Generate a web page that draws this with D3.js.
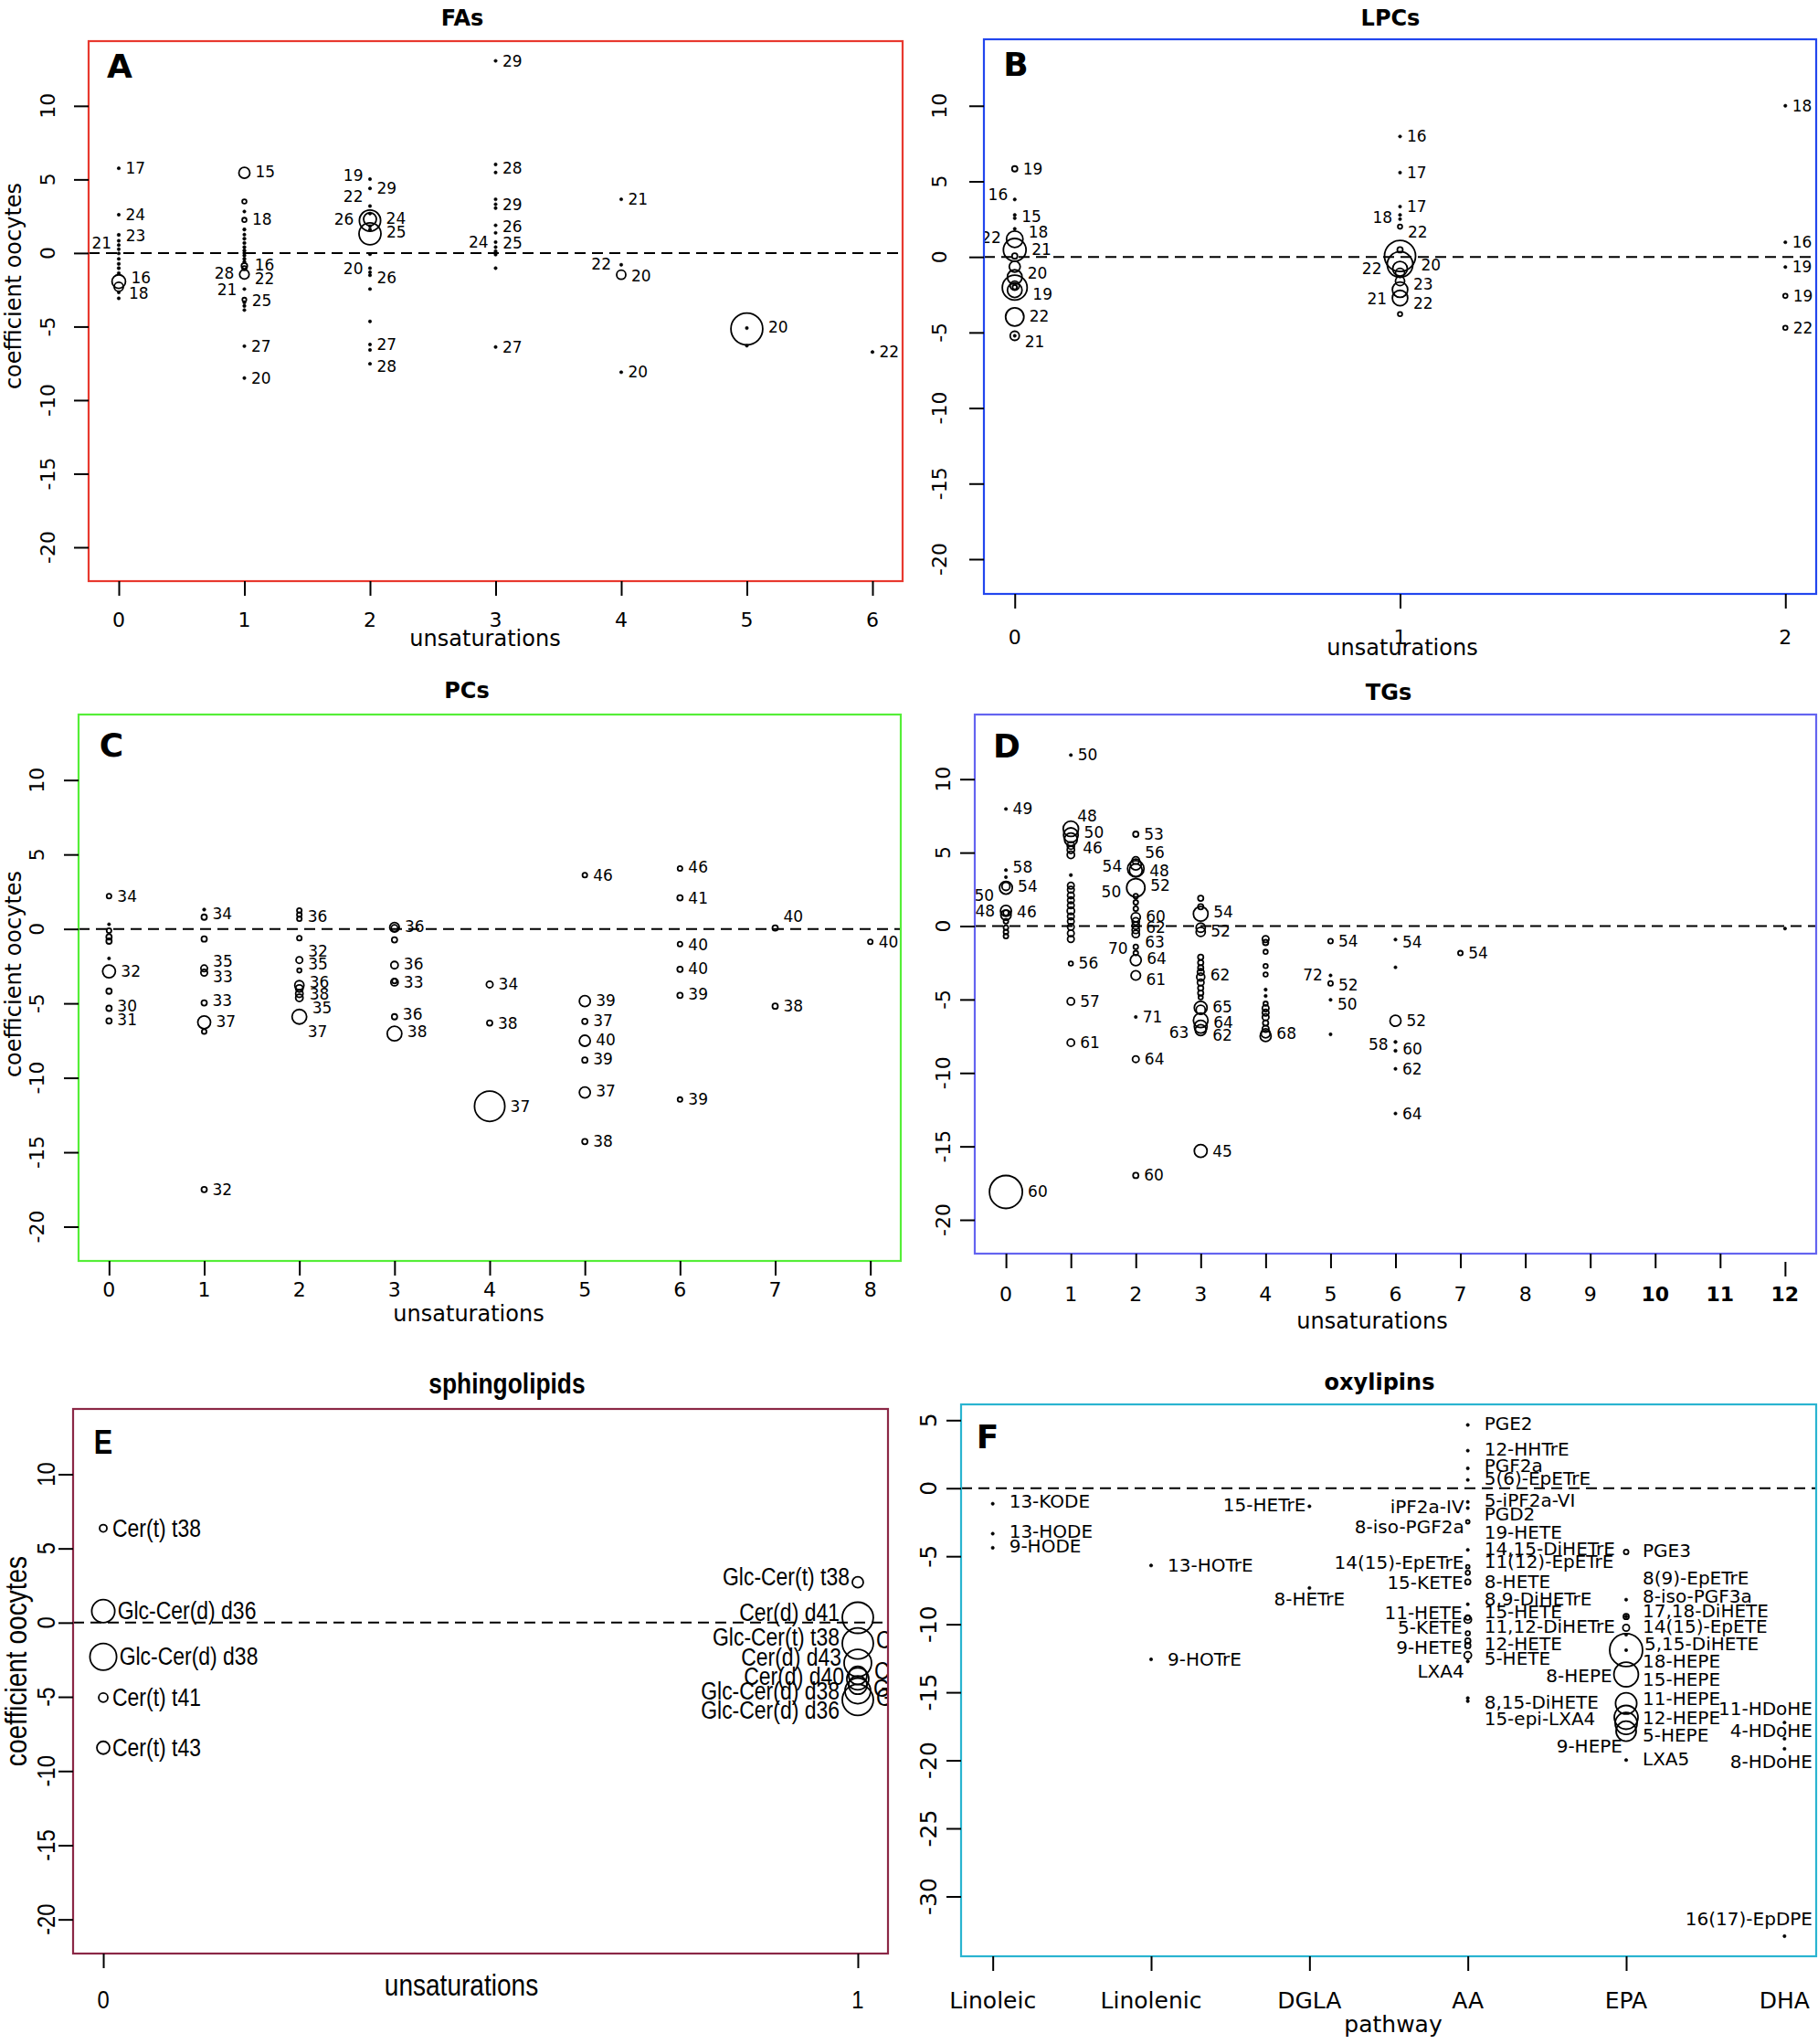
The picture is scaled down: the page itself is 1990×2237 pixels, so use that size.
<!DOCTYPE html>
<html><head><meta charset="utf-8">
<script src="https://cdn.jsdelivr.net/npm/d3@7/dist/d3.min.js"></script>
<style>body{margin:0;background:#fff}svg{display:block}</style>
</head><body>
<svg id="fig" width="1990" height="2237"></svg>
<script>
// ---------------- DATA ([x, coefficient, bubble size]) ----------------
const yTicksStd = [10, 5, 0, -5, -10, -15, -20];
const yTicksOxy = [5, 0, -5, -10, -15, -20, -25, -30];
const pathwayNames = ["Linoleic", "Linolenic", "DGLA", "AA", "EPA", "DHA"];

const faPoints = [
 [0,5.76,.75],[0,2.6,.75],[0,1.23,.9],[0,0.83,.75],[0,0.54,.75],[0,0.26,.75],[0,-0.03,.75],[0,-0.4,.75],[0,-0.74,.9],[0,-1.03,.9],[0,-1.37,.9],[0,-1.94,3.7],[0,-2.3,2.5],[0,-2.68,.75],[0,-3.08,.75],
 [1,5.45,3],[1,3.5,1.2],[1,2.82,.75],[1,2.25,1.2],[1,1.6,.9],[1,1.25,.75],[1,0.97,.9],[1,0.68,.9],[1,0.4,.9],[1,0.17,.9],[1,0,.9],[1,-0.17,.9],[1,-0.4,.9],[1,-0.6,.9],[1,-0.88,1.6],[1,-1.03,1.2],[1,-1.45,2.6],[1,-2.45,.75],[1,-3.17,1.1],[1,-3.36,.9],[1,-3.6,.9],[1,-3.88,.75],[1,-6.33,.75],[1,-8.5,.75],
 [2,5.02,.75],[2,4.39,.75],[2,3.19,.75],[2,2.68,.75],[2,2.2,5.8],[2,2.3,3.5],[2,1.31,6],[2,1.82,.75],[2,1.6,.75],[2,-0.08,.75],[2,-1.03,.75],[2,-1.31,.75],[2,-1.51,.75],[2,-2.45,.75],[2,-4.65,.75],[2,-6.22,.75],[2,-6.59,.75],[2,-7.53,.75],
 [3,13.06,.75],[3,6.02,.75],[3,5.47,.75],[3,3.65,.75],[3,3.31,.75],[3,3.05,.75],[3,1.88,.75],[3,1.37,.75],[3,0.74,.75],[3,0.4,.75],[3,0.11,.9],[3,-0.11,.75],[3,-1.03,.75],[3,-6.39,.75],
 [4,3.65,.75],[4,-0.8,.75],[4,-1.48,2.5],[4,-8.1,.75],
 [5,-5.16,8.7],[5,-5.1,.75],[5,-6.3,.75],
 [6,-6.73,.75]
];
const faLabels = [
 [0,5.76,"17","r"],[0,2.6,"24","r"],[0,1.17,"23","r"],[0,0.68,"21","l"],[0,-1.68,"16","r"],[0,-2.74,"18","r"],
 [1,5.53,"15","r"],[1,2.28,"18","r"],[1,-0.8,"16","r"],[1,-1.74,"22","r"],[1,-3.25,"25","r"],[1,-6.33,"27","r"],[1,-8.53,"20","r"],[1,-1.37,"28","l"],[1,-2.51,"21","l"],
 [2,5.25,"19","l"],[2,4.39,"29","r"],[2,3.82,"22","l"],[2,2.28,"26","l"],[2,2.34,"24","r"],[2,1.4,"25","r"],[2,-1.08,"20","l"],[2,-1.68,"26","r"],[2,-6.22,"27","r"],[2,-7.73,"28","r"],
 [3,13.06,"29","r"],[3,5.76,"28","r"],[3,3.31,"29","r"],[3,1.82,"26","r"],[3,0.74,"24","l"],[3,0.68,"25","r"],[3,-6.39,"27","r"],
 [4,3.65,"21","r"],[4,-0.74,"22","l"],[4,-1.54,"20","r"],[4,-8.1,"20","r"],
 [5,-5.05,"20","r"],[6,-6.73,"22","r"]
];

const lpcPoints = [
 [0,5.83,1.5],[0,3.8,.75],[0,2.78,.75],[0,2.56,.75],[0,1.86,.75],[0,1.17,4.5],[0,0.47,6.2],[0,0.06,1.5],[0,-0.64,3],[0,-1.33,4],[0,-2.03,6.8],[0,-2.2,4],[0,-1.9,2.5],[0,-2.0,1.2],[0,-3.97,5],[0,-5.22,2.5],[0,-5.22,.75],
 [1,7.97,.75],[1,5.58,.75],[1,3.33,.75],[1,2.78,.75],[1,2.5,.75],[1,2.0,1.2],[1,0.47,1.5],[1,0.06,8.5],[1,-0.5,7],[1,-0.78,4],[1,-1.06,2.5],[1,-1.6,2.5],[1,-2.17,4.2],[1,-2.72,4.2],[1,-3.78,1.2],
 [2,10.0,.75],[2,0.97,.75],[2,-0.67,.75],[2,-2.58,1.2],[2,-4.69,1.2]
];
const lpcLabels = [
 [0,5.83,"19","r"],[0,4.14,"16","l"],[0,2.69,"15","r"],[0,1.67,"18","r"],[0,1.3,"22","l"],[0,0.47,"21","r"],[0,-1.06,"20","r"],[0,-2.44,"19","r"],[0,-3.89,"22","r"],[0,-5.64,"21","r"],
 [1,7.97,"16","r"],[1,5.58,"17","r"],[1,3.33,"17","r"],[1,2.61,"18","l"],[1,1.67,"22","r"],[1,-0.78,"22","l"],[1,-0.56,"20","r"],[1,-1.83,"23","r"],[1,-2.8,"21","l"],[1,-3.06,"22","r"],
 [2,10,"18","r"],[2,0.97,"16","r"],[2,-0.67,"19","r"],[2,-2.58,"19","r"],[2,-4.69,"22","r"]
];

const pcPoints = [
 [0,2.2,1.3],[0,0.31,.75],[0,-0.11,1.3],[0,-0.54,1.5],[0,-0.82,1.5],[0,-1.98,.75],[0,-2.85,3.5],[0,-4.18,1.5],[0,-5.33,1.5],[0,-6.18,1.5],
 [1,1.3,.9],[1,0.79,1.5],[1,-0.68,1.5],[1,-2.65,1.8],[1,-2.94,1.8],[1,-4.97,1.5],[1,-6.27,3.5],[1,-6.89,1.3],[1,-17.5,1.5],
 [2,1.24,1.3],[2,0.96,1.3],[2,0.68,1.3],[2,-0.62,1.3],[2,-2.09,1.8],[2,-2.79,1.2],[2,-3.78,2.5],[2,-4.0,2],[2,-4.35,2],[2,-4.63,2],[2,-5.9,4],
 [3,0.11,2.6],[3,0.05,1.8],[3,-0.73,1.5],[3,-2.43,2],[3,-3.58,2],[3,-3.5,1.3],[3,-5.9,1.5],[3,-7.03,4],
 [4,-3.73,1.8],[4,-6.32,1.5],[4,-11.91,8.3],
 [5,3.61,1.3],[5,-4.85,3],[5,-6.21,1.5],[5,-7.51,3],[5,-8.81,1.5],[5,-10.98,3],[5,-14.28,1.5],
 [6,4.06,1.3],[6,2.09,1.5],[6,-1.02,1.3],[6,-2.71,1.5],[6,-4.46,1.5],[6,-11.46,1.3],
 [7,0.06,1.5],[7,-5.19,1.5],
 [8,-0.87,1.3]
];
const pcLabels = [
 [0,2.2,"34","r"],[0,-2.85,"32","r"],[0,-5.19,"30","r"],[0,-6.1,"31","r"],
 [1,1.02,"34","r"],[1,-2.17,"35","r"],[1,-3.22,"33","r"],[1,-4.83,"33","r"],[1,-6.24,"37","r"],[1,-17.5,"32","r"],
 [2,0.85,"36","r"],[2,-1.52,"32","r"],[2,-2.37,"35","r"],[2,-3.58,"36","r"],[2,-4.35,"38","r"],[2,-5.33,"35","r"],[2,-6.89,"37","r"],
 [3,0.17,"36","r"],[3,-2.37,"36","r"],[3,-3.56,"33","r"],[3,-5.76,"36","r"],[3,-6.89,"38","r"],
 [4,-3.73,"34","r"],[4,-6.32,"38","r"],[4,-11.91,"37","r"],
 [5,3.61,"46","r"],[5,-4.79,"39","r"],[5,-6.18,"37","r"],[5,-7.45,"40","r"],[5,-8.75,"39","r"],[5,-10.9,"37","r"],[5,-14.28,"38","r"],
 [6,4.15,"46","r"],[6,2.09,"41","r"],[6,-1.07,"40","r"],[6,-2.68,"40","r"],[6,-4.35,"39","r"],[6,-11.46,"39","r"],
 [7,0.82,"40","r"],[7,-5.19,"38","r"],
 [8,-0.87,"40","r"]
];

const tgPoints = [
 [0,7.97,.75],[0,3.81,.75],[0,3.33,.75],[0,2.61,3.5],[0,2.7,2.2],[0,1.03,3],[0,0.75,2.8],[0,0.9,1.5],[0,0.32,1.3],[0,-0.11,1.3],[0,-0.4,1.3],[0,-0.69,1.3],[0,-18.1,9],
 [1,11.64,.75],[1,6.62,4.2],[1,6.19,4],[1,5.9,3.5],[1,5.48,2],[1,5.19,2],[1,4.85,2],[1,3.47,.9],[1,2.75,1.8],[1,2.47,1.8],[1,2.09,1.8],[1,1.75,1.8],[1,1.41,1.8],[1,1.03,2],[1,0.66,1.8],[1,0.32,1.8],[1,-0.06,1.8],[1,-0.49,1.8],[1,-0.89,1.8],[1,-2.55,1.2],[1,-5.13,2],[1,-7.94,2],
 [2,6.25,1.5],[2,4.47,2],[2,4.19,3],[2,3.9,4.5],[2,3.8,3.5],[2,2.61,5],[2,2.04,1.3],[2,1.61,1.3],[2,1.18,1.3],[2,0.6,2.5],[2,0.32,2],[2,0.03,2],[2,-0.26,2],[2,-0.54,2],[2,-1.41,1.3],[2,-1.84,1.3],[2,-2.32,3],[2,-3.36,2.6],[2,-6.19,.75],[2,-9.06,1.8],[2,-16.98,1.5],
 [3,1.89,1.5],[3,1.32,1.5],[3,0.83,4],[3,-0.11,2.5],[3,-0.4,2.5],[3,-2.12,1.5],[3,-2.49,1.5],[3,-2.84,1.5],[3,-3.13,1.8],[3,-3.47,2.2],[3,-3.84,1.8],[3,-4.22,1.5],[3,-4.56,1.5],[3,-4.85,1.2],[3,-5.56,3.5],[3,-5.7,2.5],[3,-6.42,4],[3,-6.85,3.5],[3,-7.08,3],[3,-15.31,3.5],
 [4,-0.89,1.8],[4,-1.12,1.5],[4,-1.75,1.2],[4,-2.72,1.2],[4,-3.3,1.2],[4,-4.33,.9],[4,-4.76,.9],[4,-5.28,1.2],[4,-5.6,1.8],[4,-5.9,1.8],[4,-6.2,1.8],[4,-6.6,1.5],[4,-7.0,1.8],[4,-7.3,2.5],[4,-7.49,3],
 [5,-1.03,1.3],[5,-3.36,.75],[5,-3.9,1.3],[5,-5.02,.75],[5,-7.37,.75],
 [6,-0.92,.75],[6,-2.81,.75],[6,-6.45,3],[6,-7.89,.9],[6,-8.49,.9],[6,-9.72,.75],[6,-12.76,.75],
 [7,-1.84,1.3],
 [12,-0.17,.75]
];
const tgLabels = [
 [0,7.97,"49","r"],[0,4.04,"58","r"],[0,2.7,"54","r"],[0,2.09,"50","l"],[0,1.03,"48","l"],[0,0.95,"46","r"],[0,-18.1,"60","r"],
 [1,11.64,"50","r"],[1,7.48,"48","r"],[1,6.4,"50","r"],[1,5.33,"46","r"],[1,-2.55,"56","r"],[1,-5.13,"57","r"],[1,-7.94,"61","r"],
 [2,6.25,"53","r"],[2,4.99,"56","r"],[2,4.1,"54","l"],[2,3.76,"48","r"],[2,2.32,"50","l"],[2,2.75,"52","r"],[2,0.66,"60","r"],[2,-0.11,"62","r"],[2,-1.06,"63","r"],[2,-1.55,"70","l"],[2,-2.18,"64","r"],[2,-3.61,"61","r"],[2,-6.19,"71","r"],[2,-9.06,"64","r"],[2,-16.98,"60","r"],
 [3,0.95,"54","r"],[3,-0.32,"52","r"],[3,-3.33,"62","r"],[3,-5.51,"65","r"],[3,-6.57,"64","r"],[3,-7.43,"62","r"],[3,-7.23,"63","l"],[3,-15.31,"45","r"],
 [4,-7.34,"68","r"],
 [5,-1.03,"54","r"],[5,-3.33,"72","l"],[5,-4.04,"52","r"],[5,-5.31,"50","r"],
 [6,-1.06,"54","r"],[6,-6.45,"52","r"],[6,-8.06,"58","l"],[6,-8.37,"60","r"],[6,-9.72,"62","r"],[6,-12.76,"64","r"],
 [7,-1.84,"54","r"]
];

const sphPoints = [
 [0,6.36,2],[0,0.78,6.3],[0,-2.3,7.3],[0,-5.05,2.5],[0,-8.43,3.5],
 [1,2.72,3],[1,0.33,8.5],[1,-1.4,8.5],[1,-2.72,7.5],[1,-3.56,5],[1,-3.79,6],[1,-4.21,5],[1,-4.6,7],[1,-5.2,8.5]
];
const sphLabels = [
 [0,6.36,"Cer(t) t38","r"],[0,0.78,"Glc-Cer(d) d36","r"],[0,-2.3,"Glc-Cer(d) d38","r"],[0,-5.05,"Cer(t) t41","r"],[0,-8.43,"Cer(t) t43","r"],
 [1,3.08,"Glc-Cer(t) t38","l"],[1,0.69,"Cer(d) d41","l"],[1,-1.02,"Glc-Cer(t) t38","l"],[1,-2.36,"Cer(d) d43","l"],[1,-3.62,"Cer(d) d40","l"],[1,-4.63,"Glc-Cer(d) d38","l"],[1,-5.89,"Glc-Cer(d) d36","l"],
 [1,-1.2,"Cer(d)","r"],[1,-3.26,"Cer(d)","r"],[1,-4.45,"Glc-Cer(d)","r"],[1,-5.05,"Glc-Cer(d)","r"]
];

const oxyPoints = [
 [1,-1.14,.75],[1,-3.34,.75],[1,-4.38,.75],
 [2,-5.68,.75],[2,-12.58,.75],
 [3,-1.33,.75],[3,-7.33,.75],
 [4,4.65,.75],[4,2.76,.75],[4,1.46,.75],[4,0.61,.75],[4,-1.01,.75],[4,-1.46,.75],[4,-2.47,1],[4,-4.53,.75],[4,-5.77,1],[4,-6.22,1.2],[4,-6.89,1.5],[4,-8.53,.75],[4,-9.65,2],[4,-9.5,1.3],[4,-10.66,1.2],[4,-11.22,1.5],[4,-11.56,1.5],[4,-12.28,2],[4,-12.73,.75],[4,-15.42,.75],[4,-15.65,.75],
 [5,-4.69,1.3],[5,-8.19,.75],[5,-9.43,1.5],[5,-9.43,.9],[5,-10.26,1.8],[5,-10.77,.75],[5,-11.9,9],[5,-11.9,.75],[5,-13.69,6.7],[5,-15.82,5.8],[5,-16.84,6.5],[5,-17.28,6],[5,-17.85,5.5],[5,-19.98,.75],
 [6,-17.22,.75],[6,-18.41,.75],[6,-19.15,.75],[6,-32.92,.75]
];
const oxyLabels = [
 [1,-0.97,"13-KODE","r"],[1,-3.18,"13-HODE","r"],[1,-4.28,"9-HODE","r"],
 [2,-5.68,"13-HOTrE","r"],[2,-12.58,"9-HOTrE","r"],
 [3,-1.26,"15-HETrE","l"],[3,-8.17,"8-HETrE","c"],
 [4,4.78,"PGE2","r"],[4,2.85,"12-HHTrE","r"],[4,1.64,"PGF2a","r"],[4,0.74,"5(6)-EpETrE","r"],[4,-0.9,"5-iPF2a-VI","r"],[4,-1.91,"PGD2","r"],[4,-3.25,"19-HETE","r"],[4,-4.42,"14,15-DiHETrE","r"],[4,-5.39,"11(12)-EpETrE","r"],[4,-6.85,"8-HETE","r"],[4,-8.13,"8,9-DiHETrE","r"],[4,-9.09,"15-HETE","r"],[4,-10.17,"11,12-DiHETrE","r"],[4,-11.45,"12-HETE","r"],[4,-12.5,"5-HETE","r"],[4,-15.71,"8,15-DiHETE","r"],[4,-16.95,"15-epi-LXA4","r"],
 [4,-1.39,"iPF2a-IV","l"],[4,-2.82,"8-iso-PGF2a","l"],[4,-5.48,"14(15)-EpETrE","l"],[4,-6.91,"15-KETE","l"],[4,-9.18,"11-HETE","l"],[4,-10.22,"5-KETE","l"],[4,-11.68,"9-HETE","l"],[4,-13.46,"LXA4","l"],
 [5,-4.56,"PGE3","r"],[5,-6.62,"8(9)-EpETrE","r"],[5,-7.92,"8-iso-PGF3a","r"],[5,-9.02,"17,18-DiHETE","r"],[5,-10.17,"14(15)-EpETE","r"],[5,-11.45,"5,15-DiHETE","r"],[5,-12.73,"18-HEPE","r"],[5,-14.07,"15-HEPE","r"],[5,-15.49,"11-HEPE","r"],[5,-16.9,"12-HEPE","r"],[5,-18.14,"5-HEPE","r"],[5,-19.91,"LXA5","r"],
 [5,-13.76,"8-HEPE","l"],[5,-18.97,"9-HEPE","l"],
 [6,-16.23,"11-HDoHE","c"],[6,-17.8,"4-HDoHE","c"],[6,-20.09,"8-HDoHE","c"],[6,-31.62,"16(17)-EpDPE","c"]
];

// ---------------- LAYOUT ----------------
const MAIN = "'DejaVu Sans', 'Noto Sans', sans-serif";
const ARIAL = "'Liberation Sans', Arial, sans-serif";
const std = {lab:17, tick:22, axis:24, title:24, letter:36};
const panels = [
 {id:"A", title:"FAs", color:"#e8392f", pts:faPoints, labs:faLabels, box:[97,45,988,636], xdom:[-0.24,6.24], ydom:[-22.3,14.4],
  xticks:d3.range(0,7), xnames:null, yticks:yTicksStd, xTickY:678, yTickX:52, xlab:[531,699,"unsaturations"], ylab:[15,313],
  titlePos:[506,20], letterPos:[131,72], font:MAIN, fs:std, off:{minR:7,gapR:6,minL:7,gapL:6}},
 {id:"B", title:"LPCs", color:"#2246ee", pts:lpcPoints, labs:lpcLabels, box:[1077,43,1988,650], xdom:[-0.08,2.08], ydom:[-22.3,14.4],
  xticks:[0,1,2], xnames:null, yticks:yTicksStd, xTickY:697, yTickX:1028, xlab:[1535,709,"unsaturations"], ylab:null,
  titlePos:[1522,20], letterPos:[1112,70], font:MAIN, fs:std, off:{minR:7,gapR:6,minL:7,gapL:6}},
 {id:"C", title:"PCs", color:"#55ee38", pts:pcPoints, labs:pcLabels, box:[86,782,986,1380], xdom:[-0.32,8.32], ydom:[-22.3,14.4],
  xticks:d3.range(0,9), xnames:null, yticks:yTicksStd, xTickY:1411, yTickX:40, xlab:[513,1438,"unsaturations"], ylab:[15,1066],
  titlePos:[511,756], letterPos:[122,815], font:MAIN, fs:std, off:{minR:9,gapR:6,minL:7,gapL:6}},
 {id:"D", title:"TGs", color:"#6464f0", pts:tgPoints, labs:tgLabels, box:[1067,782,1988,1372], xdom:[-0.48,12.48], ydom:[-22.3,14.4],
  xticks:d3.range(0,13), xnames:null, yticks:yTicksStd, xTickY:1416, yTickX:1032, xlab:[1502,1446,"unsaturations"], ylab:null,
  titlePos:[1520,758], letterPos:[1102,816], font:MAIN, fs:std, off:{minR:7,gapR:6,minL:7,gapL:6}, boldTicks:[10,11,12], lowTick:12},
 {id:"E", title:"sphingolipids", color:"#8b2846", pts:sphPoints, labs:sphLabels, box:[80,1542,972,2138], xdom:[-0.04,1.04], ydom:[-22.3,14.4],
  xticks:[0,1], xnames:null, yticks:yTicksStd, xTickY:2188, yTickX:50, xlab:[505,2172,"unsaturations"], ylab:[17,1818],
  titlePos:[555,1514], letterPos:[113,1578], font:ARIAL, condense:0.85, fs:{lab:27, tick:28, axis:33, title:31, letter:36}, off:{minR:10,gapR:3,minL:6,gapL:3}},
 {id:"F", title:"oxylipins", color:"#2ab4d0", pts:oxyPoints, labs:oxyLabels, box:[1052,1537,1988,2141], xdom:[0.8,6.2], ydom:[-34.4,6.16],
  xticks:[1,2,3,4,5], xnames:pathwayNames, yticks:yTicksOxy, xTickY:2189, yTickX:1016, xlab:[1525,2215,"pathway"], ylab:null,
  titlePos:[1510,1513], letterPos:[1081,1572], font:MAIN, fs:{lab:20, tick:25, axis:25, title:24, letter:36}, off:{minR:18,gapR:2,minL:4,gapL:2}}
];

// ---------------- DRAW ----------------
const svg = d3.select("#fig");
svg.append("rect").attr("width",1990).attr("height",2237).attr("fill","#fff");
const rScale = d3.scaleLinear().domain([0,10]).range([0,20]);

panels.forEach(p => {
  const [x0,y0,x1,y1] = p.box;
  const x = d3.scaleLinear().domain(p.xdom).range([x0,x1]);
  const y = d3.scaleLinear().domain(p.ydom).range([y1,y0]);
  const g = svg.append("g").attr("font-family", p.font);
  const cid = "clip" + p.id;
  svg.append("defs").append("clipPath").attr("id",cid)
     .append("rect").attr("x",x0).attr("y",y0).attr("width",x1-x0).attr("height",y1-y0);
  const inner = g.append("g").attr("clip-path",`url(#${cid})`);

  inner.append("line").attr("x1",x0).attr("x2",x1).attr("y1",y(0)).attr("y2",y(0))
    .attr("stroke","#000").attr("stroke-width",2).attr("stroke-dasharray","12,7");

  inner.selectAll("circle.pt").data(p.pts).join("circle").attr("class","pt")
    .attr("cx",d=>x(d[0])).attr("cy",d=>y(d[1]))
    .attr("r",d=>Math.max(rScale(d[2]), 1.7))
    .attr("fill",d=>rScale(d[2])<=1.9?"#000":"none")
    .attr("stroke","#000").attr("stroke-width",d=>rScale(d[2])<=1.9?0.6:1.8);

  const nearR = l => {
    let m = 0;
    p.pts.forEach(d => { if (d[0]===l[0] && Math.abs(y(d[1])-y(l[1])) < 12) m = Math.max(m, rScale(d[2])); });
    return m;
  };
  const labSel = inner.selectAll("text.lab").data(p.labs).join("text").attr("class","lab")
    .attr("font-size",p.fs.lab)
    .attr("dominant-baseline","central")
    .attr("text-anchor",d=>d[3]==="r"?"start":d[3]==="l"?"end":"middle")
    .attr("x",d=>{
      const r = nearR(d);
      if (d[3]==="r") return x(d[0]) + Math.max(p.off.minR, r + p.off.gapR);
      if (d[3]==="l") return x(d[0]) - Math.max(p.off.minL, r + p.off.gapL);
      return x(d[0]);
    })
    .attr("y",d=>y(d[1]))
    .text(d=>d[2]);

  g.append("rect").attr("x",x0).attr("y",y0).attr("width",x1-x0).attr("height",y1-y0)
    .attr("fill","none").attr("stroke",p.color).attr("stroke-width",2.2);

  const xa = g.append("g").attr("transform",`translate(0,${y1})`)
    .call(d3.axisBottom(x).tickValues(p.xticks).tickSize(16).tickFormat(""));
  xa.select(".domain").remove();
  xa.selectAll(".tick line").attr("stroke","#000").attr("stroke-width",2);
  if (p.lowTick !== undefined) xa.selectAll(".tick").filter(d=>d===p.lowTick).select("line").attr("y1",9).attr("y2",25);
  const xlabVals = p.xnames ? p.xnames.map((n,i)=>[i+1,n]) : p.xticks.map(v=>[v,String(v)]);
  g.selectAll("text.xt").data(xlabVals).join("text").attr("class","xt")
    .attr("x",d=>x(d[0])).attr("y",p.xTickY).attr("text-anchor","middle").attr("dominant-baseline","central")
    .attr("font-size",p.fs.tick)
    .attr("font-weight",d=>(p.boldTicks && p.boldTicks.includes(d[0]))?"bold":"normal")
    .text(d=>d[1]);

  const ya = g.append("g").attr("transform",`translate(${x0},0)`)
    .call(d3.axisLeft(y).tickValues(p.yticks).tickSize(16).tickFormat(""));
  ya.select(".domain").remove();
  ya.selectAll(".tick line").attr("stroke","#000").attr("stroke-width",2);
  g.selectAll("text.yt").data(p.yticks).join("text").attr("class","yt")
    .attr("transform",d=>`translate(${p.yTickX},${y(d)}) rotate(-90)`)
    .attr("text-anchor","middle").attr("dominant-baseline","central")
    .attr("font-size",p.fs.tick).text(d=>String(d));

  g.append("text").attr("x",p.xlab[0]).attr("y",p.xlab[1]).attr("text-anchor","middle").attr("dominant-baseline","central")
    .attr("font-size",p.fs.axis).text(p.xlab[2]);
  if (p.ylab) g.append("text").attr("transform",`translate(${p.ylab[0]},${p.ylab[1]}) rotate(-90)`)
    .attr("text-anchor","middle").attr("dominant-baseline","central").attr("font-size",p.fs.axis).text("coefficient oocytes");

  g.append("text").attr("x",p.titlePos[0]).attr("y",p.titlePos[1]).attr("text-anchor","middle").attr("dominant-baseline","central")
    .attr("font-size",p.fs.title).attr("font-weight","bold").text(p.title);
  g.append("text").attr("x",p.letterPos[0]).attr("y",p.letterPos[1]).attr("text-anchor","middle").attr("dominant-baseline","central")
    .attr("font-size",p.fs.letter).attr("font-weight","bold").text(p.id);

  // condensed lettering (panel E uses a narrow face)
  if (p.condense) {
    g.selectAll("text").each(function(){
      const w = this.getComputedTextLength();
      d3.select(this).attr("textLength", w * p.condense).attr("lengthAdjust","spacingAndGlyphs");
    });
  }

  // centred labels kept inside the plotting box
  labSel.filter(d=>d[3]==="c").each(function(d){
    const w = this.getComputedTextLength();
    let cx = x(d[0]);
    if (cx + w/2 > x1 - 4) cx = x1 - 4 - w/2;
    d3.select(this).attr("x",cx);
  });
});
</script>
</body></html>
